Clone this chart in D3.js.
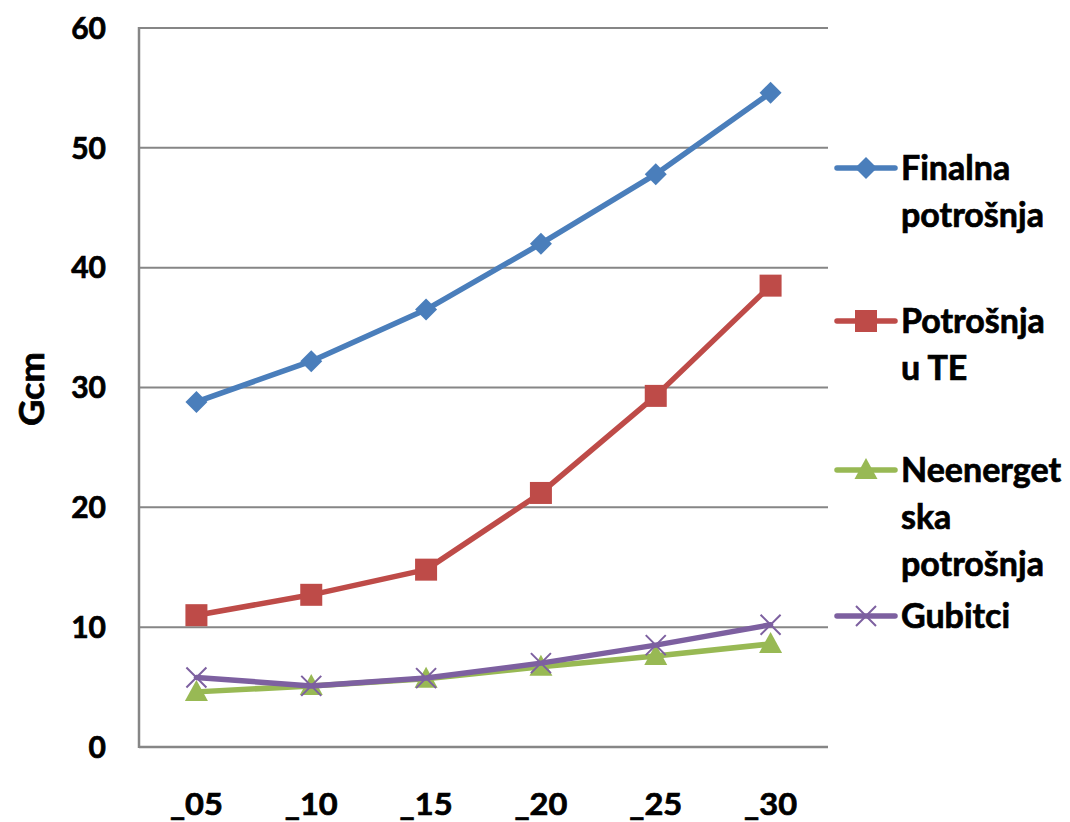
<!DOCTYPE html>
<html><head><meta charset="utf-8">
<script src="https://cdn.jsdelivr.net/npm/d3@7"></script>
<style>body{margin:0;background:#fff}svg text{font-family:Lato,"Open Sans",sans-serif;font-weight:700;fill:#000;stroke:#000;stroke-width:0.7px}</style>
</head><body>
<svg id="c" width="1070" height="822"></svg>
<script>
const categories = ["_05","_10","_15","_20","_25","_30"];
const finalna = [28.8, 32.2, 36.5, 42.0, 47.8, 54.6];
const potrosnjaTE = [11.0, 12.7, 14.8, 21.2, 29.3, 38.5];
const neenergetska = [4.6, 5.1, 5.7, 6.7, 7.6, 8.6];
const gubitci = [5.8, 5.1, 5.75, 7.0, 8.5, 10.2];
const yTicks = [0,10,20,30,40,50,60];
const seriesNames = [["Finalna","potrošnja"],["Potrošnja","u TE"],["Neenerget","ska","potrošnja"],["Gubitci"]];

const series = [
  {values: finalna, color:"#4A7EBB", marker:"diamond", lines: seriesNames[0], ly:168},
  {values: potrosnjaTE, color:"#BE4B48", marker:"square", lines: seriesNames[1], ly:321},
  {values: neenergetska, color:"#98B954", marker:"triangle", lines: seriesNames[2], ly:470},
  {values: gubitci, color:"#7D60A0", marker:"x", lines: seriesNames[3], ly:616}
];

const svg = d3.select("#c");
const L=139, R=828, T=28, B=747;
const x = d3.scalePoint().domain(categories).range([L,R]).padding(0.5);
const y = d3.scaleLinear().domain([0,60]).range([B,T]);
const grid = "#868686";

svg.append("g").selectAll("line").data(yTicks.filter(d=>d>0)).join("line")
  .attr("x1",L).attr("x2",R).attr("y1",d=>y(d)).attr("y2",d=>y(d))
  .attr("stroke",grid).attr("stroke-width",2);
svg.append("line").attr("x1",L).attr("x2",L).attr("y1",T-1).attr("y2",B+1).attr("stroke",grid).attr("stroke-width",2.5);
svg.append("line").attr("x1",L).attr("x2",R).attr("y1",B).attr("y2",B).attr("stroke",grid).attr("stroke-width",2.5);

svg.append("g").selectAll("text").data(yTicks).join("text")
  .attr("x",106).attr("y",d=>y(d)).attr("dy","0.36em").attr("text-anchor","end")
  .attr("font-size",30).text(d=>d);
svg.append("g").selectAll("text").data(categories).join("text")
  .attr("x",d=>x(d)).attr("y",815).attr("text-anchor","middle")
  .attr("font-size",31).attr("textLength",53).attr("lengthAdjust","spacingAndGlyphs").text(d=>d);
svg.append("text").attr("transform","translate(44,389) rotate(-90)").attr("text-anchor","middle")
  .attr("font-size",34).attr("textLength",74).attr("lengthAdjust","spacingAndGlyphs").text("Gcm");

function marker(g, type, cx, cy, color){
  if(type==="diamond"){
    g.append("path").attr("d",`M${cx},${cy-11}L${cx+11},${cy}L${cx},${cy+11}L${cx-11},${cy}Z`).attr("fill",color);
  } else if(type==="square"){
    g.append("rect").attr("x",cx-11).attr("y",cy-11).attr("width",22).attr("height",22).attr("fill",color);
  } else if(type==="triangle"){
    g.append("path").attr("d",`M${cx},${cy-12}L${cx+11.5},${cy+9}L${cx-11.5},${cy+9}Z`).attr("fill",color);
  } else {
    g.append("path").attr("d",`M${cx-10},${cy-10}L${cx+10},${cy+10}M${cx+10},${cy-10}L${cx-10},${cy+10}`).attr("stroke",color).attr("stroke-width",2).attr("fill","none");
  }
}

const line = d3.line().x((d,i)=>x(categories[i])).y(d=>y(d));
series.forEach(s=>{
  const g = svg.append("g");
  g.append("path").attr("d",line(s.values)).attr("fill","none").attr("stroke",s.color)
    .attr("stroke-width",5.5).attr("stroke-linejoin","round").attr("stroke-linecap","round");
  s.values.forEach((v,i)=>marker(g,s.marker,x(categories[i]),y(v),s.color));
});

series.forEach(s=>{
  const g = svg.append("g");
  g.append("line").attr("x1",837).attr("x2",895).attr("y1",s.ly).attr("y2",s.ly)
    .attr("stroke",s.color).attr("stroke-width",5.5).attr("stroke-linecap","round");
  marker(g,s.marker,866,s.ly,s.color);
  s.lines.forEach((t,i)=>{
    g.append("text").attr("x",901).attr("y",s.ly+i*47).attr("dy","0.36em").attr("font-size",34).text(t);
  });
});
</script>
</body></html>
